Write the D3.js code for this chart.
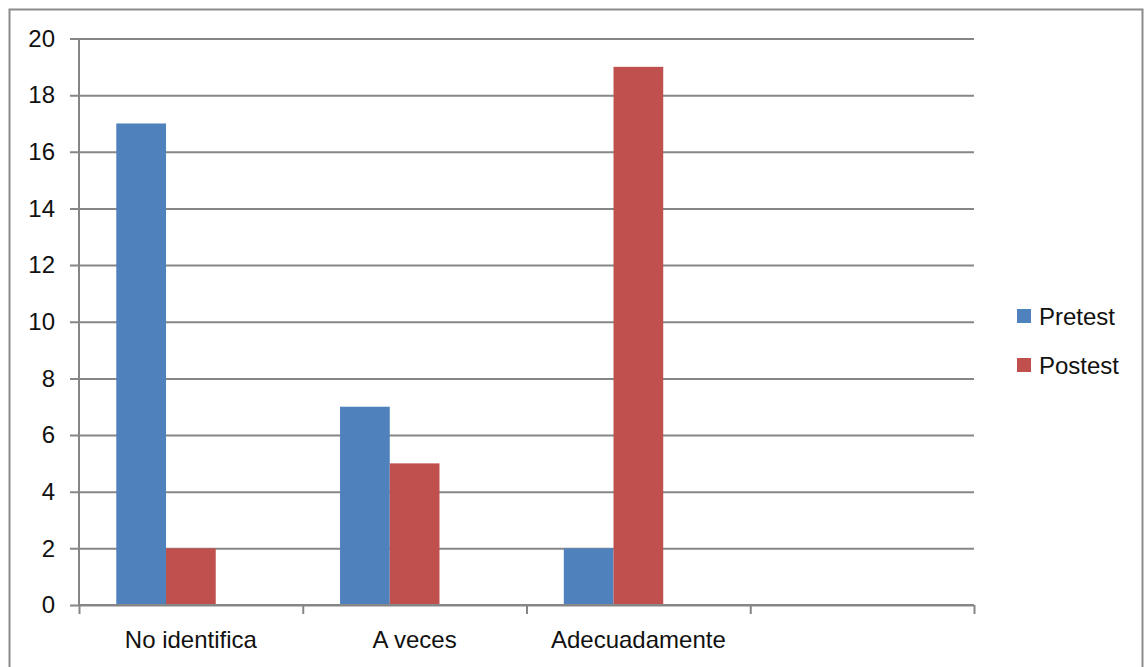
<!DOCTYPE html>
<html>
<head>
<meta charset="utf-8">
<script src="https://cdn.jsdelivr.net/npm/d3@7"></script>
<style>
  body { margin: 0; background: #fff; }
  svg { display: block; }
  text { font-family: "Liberation Sans", Arial, sans-serif; fill: #111; }
</style>
</head>
<body>
<div id="chart"></div>
<script>
// data
var categories = ["No identifica", "A veces", "Adecuadamente", ""];
var seriesNames = ["Pretest", "Postest"];
var pretest = [17, 7, 2, null];
var postest = [2, 5, 19, null];
var yTicks = [0, 2, 4, 6, 8, 10, 12, 14, 16, 18, 20];
var colors = ["#4F81BD", "#C0504D"];

var W = 1144, H = 667;
var plotLeft = 79, plotRight = 974, plotTop = 38.5, plotBottom = 605;

var svg = d3.select("#chart").append("svg")
  .attr("width", W)
  .attr("height", H);

// outer frame of the chart area
svg.append("rect")
  .attr("x", 9.5).attr("y", 9.5)
  .attr("width", 1133).attr("height", 700)
  .attr("fill", "none")
  .attr("stroke", "#8c8c8c")
  .attr("stroke-width", 2);

var y = d3.scaleLinear().domain([0, 20]).range([plotBottom, plotTop]);

var x0 = d3.scaleBand().domain(d3.range(categories.length))
  .range([plotLeft, plotRight]).paddingInner(0).paddingOuter(0);

// excel keeps room for a 3rd (empty) series in each group
var x1 = d3.scaleBand().domain([0, 1, 2])
  .range([0, x0.bandwidth()]).paddingInner(0).paddingOuter(0.75);

// gridlines + ticks on the left
var yAxis = d3.axisLeft(y).tickValues(yTicks)
  .tickSize(-(plotRight - plotLeft))
  .tickFormat(d3.format("d"));

var gy = svg.append("g")
  .attr("transform", "translate(" + plotLeft + ",0)")
  .call(yAxis);
gy.select(".domain").remove();
gy.selectAll("line")
  .attr("x1", -9)
  .attr("stroke", "#868686")
  .attr("stroke-width", 2);
gy.selectAll("text")
  .attr("x", -24)
  .style("font-size", "24px")
  .style("font-family", "Liberation Sans, Arial, sans-serif")
  .attr("fill", "#111");

// vertical axis line
svg.append("line")
  .attr("x1", plotLeft).attr("x2", plotLeft)
  .attr("y1", plotTop).attr("y2", plotBottom)
  .attr("stroke", "#868686").attr("stroke-width", 2);

// bars
var data = [pretest, postest];
data.forEach(function(vals, s) {
  svg.append("g").selectAll("rect")
    .data(vals.map(function(v, i) { return { i: i, v: v }; }).filter(function(d) { return d.v != null; }))
    .enter()
    .append("rect")
    .attr("x", function(d) { return x0(d.i) + x1(s); })
    .attr("width", x1.bandwidth())
    .attr("y", function(d) { return y(d.v); })
    .attr("height", function(d) { return y(0) - y(d.v); })
    .attr("fill", colors[s]);
});

// x axis with tick marks at the category borders
var xAxisScale = d3.scaleLinear().domain([0, categories.length]).range([plotLeft, plotRight]);
var gx = svg.append("g")
  .attr("transform", "translate(0," + plotBottom + ")")
  .call(d3.axisBottom(xAxisScale).ticks(categories.length).tickSize(9).tickFormat(""));
gx.select(".domain").attr("stroke", "#868686").attr("stroke-width", 2)
  .attr("d", "M" + plotLeft + ",0H" + plotRight);
gx.selectAll("line").attr("stroke", "#868686").attr("stroke-width", 2);

svg.append("g").selectAll("text")
  .data(categories)
  .enter()
  .append("text")
  .attr("x", function(d, i) { return x0(i) + x0.bandwidth() / 2; })
  .attr("y", 648)
  .attr("text-anchor", "middle")
  .style("font-size", "24px")
  .text(function(d) { return d; });

// legend
var legend = svg.append("g").selectAll("g")
  .data(seriesNames)
  .enter()
  .append("g")
  .attr("transform", function(d, i) { return "translate(1017," + (309 + i * 49) + ")"; });
legend.append("rect")
  .attr("width", 14).attr("height", 14)
  .attr("fill", function(d, i) { return colors[i]; });
legend.append("text")
  .attr("x", 22).attr("y", 16)
  .style("font-size", "24px")
  .text(function(d) { return d; });
</script>
</body>
</html>
